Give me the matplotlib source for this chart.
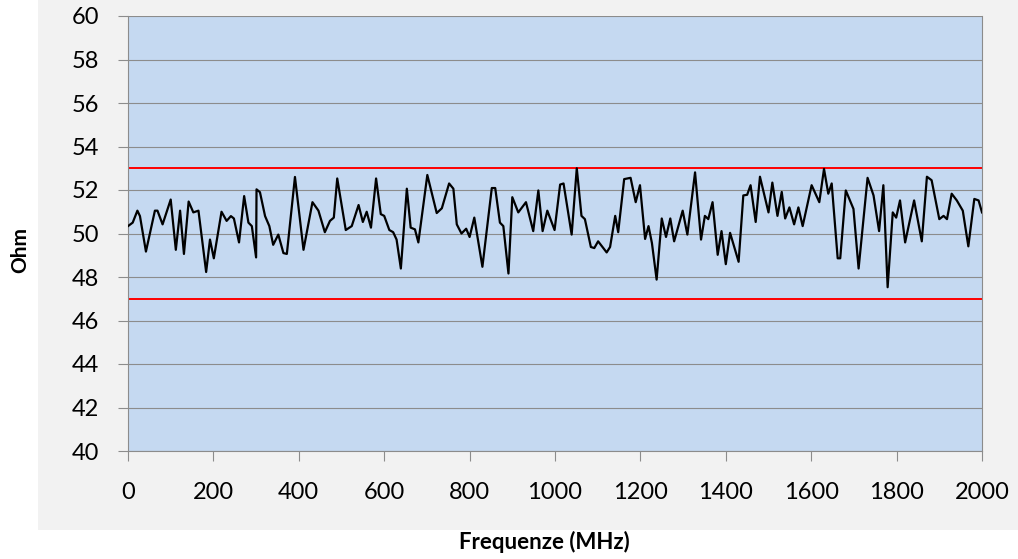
import matplotlib.pyplot as plt
from matplotlib.patches import Rectangle

# valori (MHz, Ohm)
freq = [0, 11, 22, 28, 42, 63, 69, 81, 100, 112, 122, 131, 142, 153, 165, 183,
        192, 201, 219, 231, 241, 248, 260, 272, 282, 290, 300, 301, 309, 321,
        331, 340, 352, 364, 372, 391, 411, 432, 446, 461, 473, 482, 490, 510,
        524, 540, 550, 559, 569, 581, 592, 600, 612, 621, 629, 639, 653, 662,
        672, 680, 701, 723, 735, 752, 762, 770, 781, 792, 800, 811, 830, 852,
        860, 871, 879, 891, 900, 914, 932, 949, 961, 971, 982, 999, 1012, 1020,
        1039, 1051, 1062, 1070, 1084, 1092, 1101, 1121, 1129, 1141, 1148, 1162,
        1177, 1189, 1199, 1211, 1219, 1227, 1238, 1250, 1260, 1270, 1279, 1299,
        1310, 1328, 1342, 1351, 1359, 1369, 1381, 1390, 1400, 1410, 1430, 1441,
        1450, 1458, 1470, 1480, 1500, 1509, 1521, 1531, 1539, 1549, 1560, 1570,
        1580, 1601, 1619, 1630, 1640, 1648, 1662, 1668, 1681, 1699, 1711, 1732,
        1746, 1759, 1769, 1779, 1791, 1799, 1808, 1820, 1841, 1859, 1871, 1882,
        1900, 1910, 1918, 1929, 1941, 1955, 1968, 1982, 1992, 2000]
ohm = [50.34, 50.5, 51.05, 50.8, 49.17, 51.05, 51.05, 50.42, 51.56, 49.25,
       51.05, 49.06, 51.47, 50.97, 51.05, 48.23, 49.72, 48.86, 51.0, 50.58,
       50.8, 50.69, 49.59, 51.72, 50.5, 50.34, 48.9, 52.03, 51.9, 50.8,
       50.34, 49.48, 49.95, 49.1, 49.06, 52.6, 49.25, 51.44, 51.05, 50.06,
       50.58, 50.73, 52.53, 50.16, 50.34, 51.31, 50.53, 51.0, 50.27, 52.53,
       50.89, 50.81, 50.16, 50.06, 49.72, 48.39, 52.06, 50.27, 50.19, 49.59,
       52.69, 50.94, 51.16, 52.3, 52.06, 50.42, 50.0, 50.22, 49.84, 50.73,
       48.47, 52.09, 52.09, 50.5, 50.34, 48.16, 51.67, 50.97, 51.44, 50.11,
       51.98, 50.11, 51.05, 50.16, 52.25, 52.3, 49.95, 53.0, 50.81, 50.66,
       49.38, 49.33, 49.64, 49.13, 49.38, 50.81, 50.06, 52.5, 52.56, 51.44,
       52.22, 49.75, 50.34, 49.56, 47.88, 50.69, 49.84, 50.69, 49.64, 51.05,
       49.95, 52.81, 49.72, 50.81, 50.66, 51.44, 49.02, 50.11, 48.59, 50.03,
       48.7, 51.75, 51.78, 52.22, 50.53, 52.61, 50.97, 52.34, 50.81, 51.91,
       50.69, 51.2, 50.42, 51.2, 50.34, 52.22, 51.44, 52.97, 51.83, 52.3,
       48.86, 48.86, 51.98, 51.13, 48.39, 52.56, 51.75, 50.11, 52.22, 47.53,
       50.97, 50.73, 51.52, 49.59, 51.52, 49.64, 52.61, 52.45, 50.66, 50.81,
       50.66, 51.83, 51.52, 51.05, 49.41, 51.59, 51.52, 50.97]

limiti = [53, 47]
yticks = list(range(40, 61, 2))
xticks = list(range(0, 2001, 200))

plt.rcParams['font.family'] = ['Lato', 'DejaVu Sans']

fig = plt.figure(figsize=(10.18, 5.59), dpi=100, facecolor='white')
# sfondo grigio dell'area grafico
fig.patches.append(Rectangle((38 / 1018, 1 - 530 / 559), 1, 530 / 559,
                             transform=fig.transFigure, facecolor='#f2f2f2',
                             edgecolor='none', zorder=-5))

ax = fig.add_axes([128 / 1018, 1 - 451 / 559, 854 / 1018, 435 / 559])
ax.set_facecolor('#c5d9f1')

ax.plot(freq, ohm, color='black', lw=1.6, zorder=3)
for l in limiti:
    ax.axhline(l, color='#ff0000', lw=1.4, zorder=2)

ax.set_xlim(0, 2000)
ax.set_ylim(40, 60)
ax.set_xticks(xticks)
ax.set_yticks(yticks)
ax.grid(axis='y', color='#8c8c8c', lw=0.8)
ax.set_axisbelow(True)

for s in ['left', 'bottom', 'right']:
    ax.spines[s].set_color('#8c8c8c')
    ax.spines[s].set_linewidth(0.8)
ax.spines['top'].set_visible(False)

ax.tick_params(axis='both', colors='#8c8c8c', labelcolor='black',
               labelsize=17, width=0.8, length=7)
ax.tick_params(axis='x', pad=15)
ax.tick_params(axis='y', pad=14)

fig.text(20 / 1018, 1 - 250 / 559, 'Ohm', rotation=90, fontsize=15,
         fontweight='bold', ha='center', va='center')
fig.text(544 / 1018, 1 - 542 / 559, 'Frequenze (MHz)', fontsize=16,
         fontweight='bold', ha='center', va='center')

fig.savefig('out.png', dpi=100, facecolor=fig.get_facecolor())
